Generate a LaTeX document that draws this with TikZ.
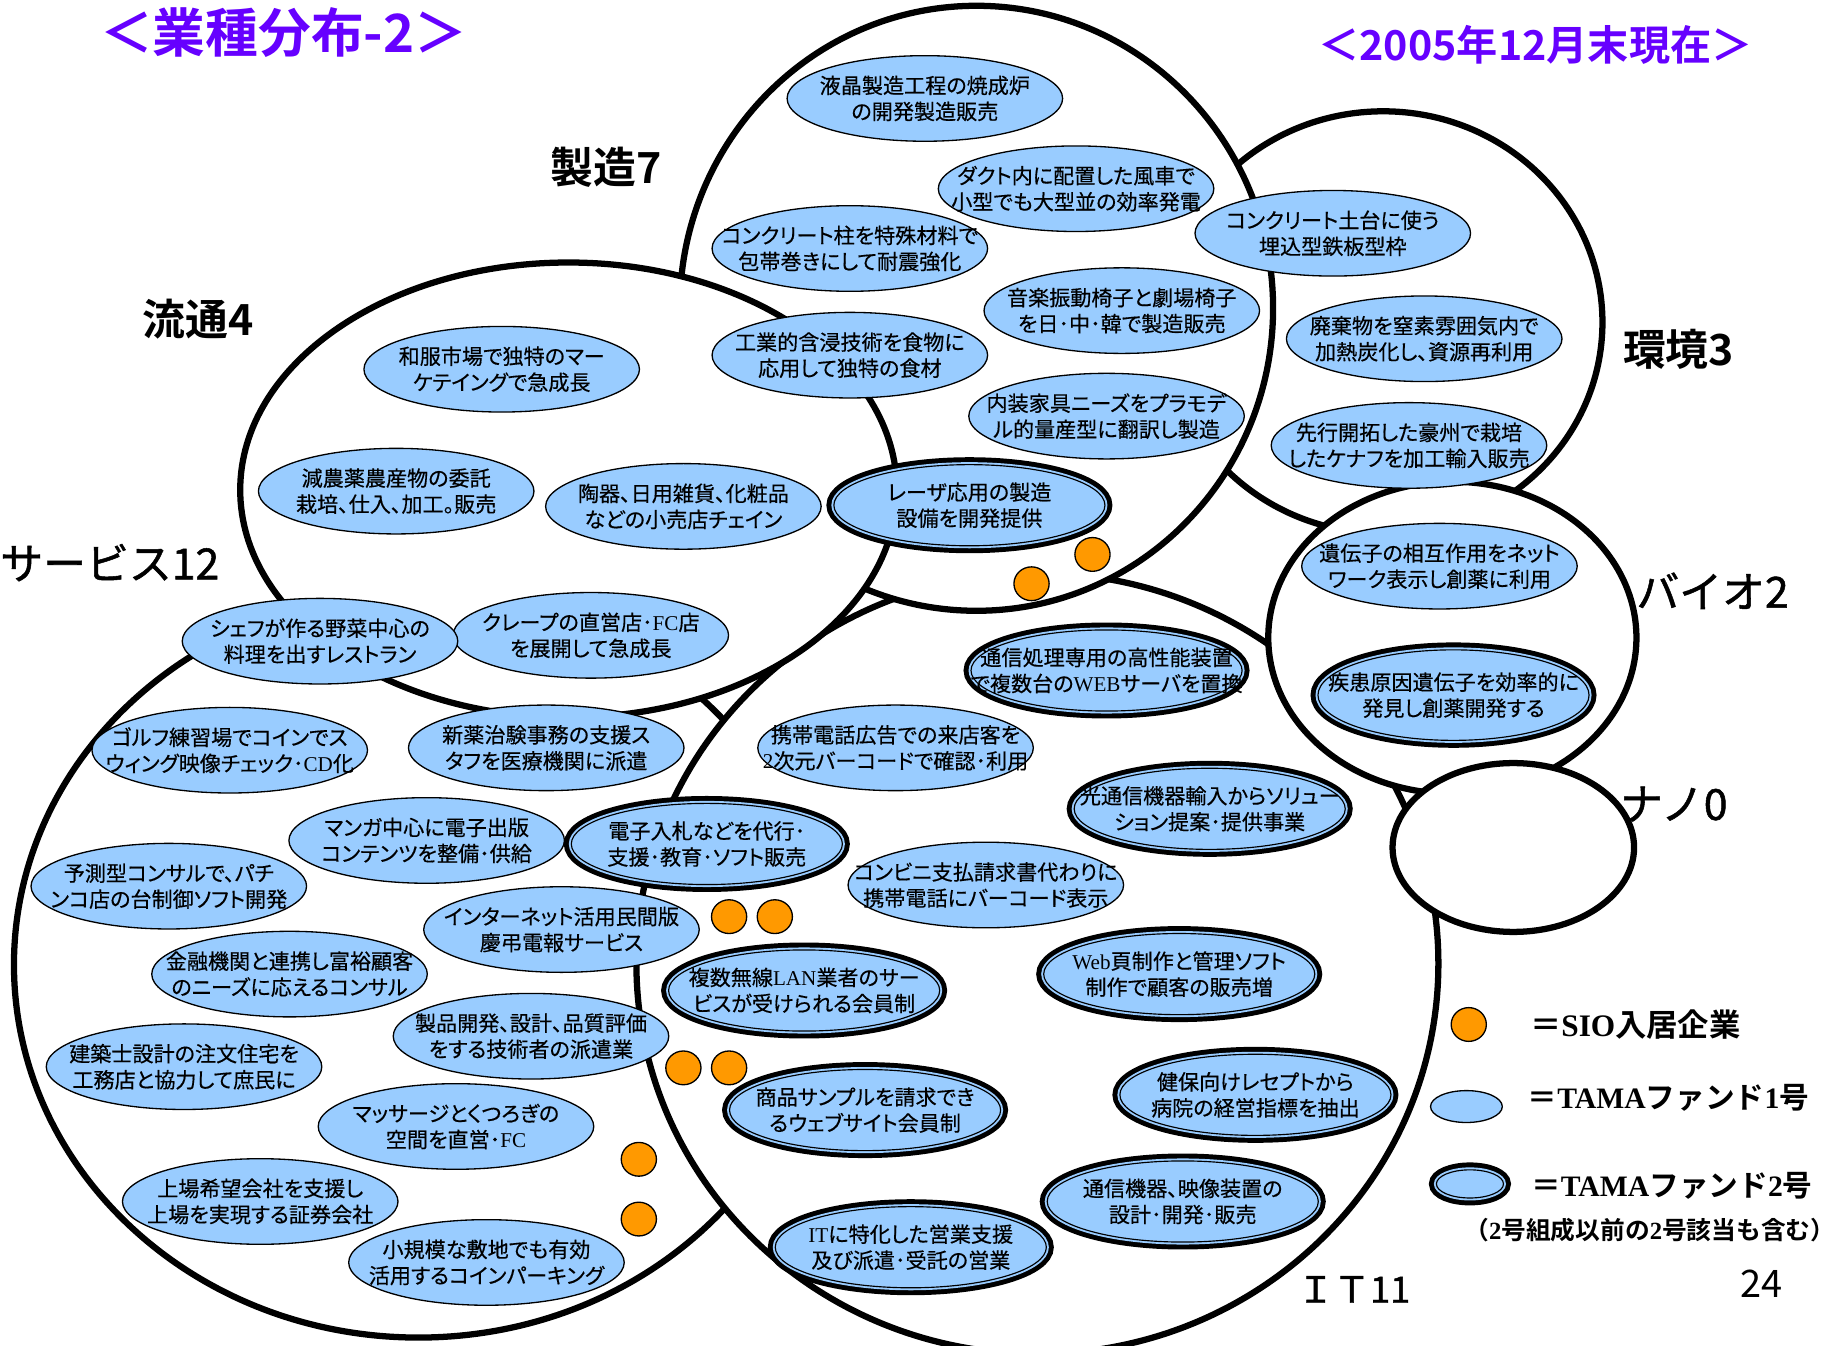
\documentclass[tikz,border=0pt]{standalone}
\usepackage{fontspec}
\setmainfont{Noto Sans CJK JP}[BoldFont={Noto Sans CJK JP Bold}]
\newfontfamily\fundfont{Noto Sans CJK JP}[RawFeature=+palt, FakeBold=0.4]
\newfontfamily\labelfont{Noto Sans CJK JP}[FakeBold=1.2]
\newfontfamily\lat{Liberation Serif}
\usepackage{xcolor}
\usepackage{tikz}
\usetikzlibrary{shapes,positioning}

\definecolor{fundblue}{RGB}{153,204,255}
\definecolor{sioorange}{RGB}{255,153,0}
\definecolor{titlepurple}{RGB}{102,0,255}

\begin{document}
\begin{tikzpicture}[x=0.025cm, y=-0.025cm]
    % Define styles
    \tikzstyle{industry} = [ellipse, draw, fill=white, line width=3.8pt, inner sep=0pt]
    \tikzstyle{fund} = [ellipse, draw, fill=fundblue, line width=0.8pt, inner xsep=-2.5cm, inner ysep=-1cm, align=center, font=\fundfont\fontsize{12.8pt}{15.8pt}\selectfont, minimum width=5.875cm, minimum height=1.825cm]
    \tikzstyle{fundtwo} = [fund, line width=0.7pt, minimum width=5.78cm, minimum height=1.73cm, preaction={draw=black, line width=9pt}, preaction={draw=fundblue, line width=3pt}]
    \tikzstyle{sio} = [ellipse, draw, fill=sioorange, line width=0.8pt, inner sep=0pt, minimum width=0.75cm, minimum height=0.72cm]
    \tikzstyle{industrylabel} = [inner sep=0pt, font=\labelfont\fontsize{26pt}{30pt}\selectfont]
    \tikzstyle{legendtext} = [anchor=west, inner sep=0pt, font=\fontsize{18pt}{22pt}\bfseries]

    \fill[white] (0,0) rectangle (1568,1148);
    \useasboundingbox (0,0) rectangle (1568,1148);

    % Industry circles
    \node [industry, minimum width=9.35cm, minimum height=9cm] (kankyo) at (1180,275) {};
    \node [industry, minimum width=17.25cm, minimum height=15.9cm] (service) at (357,823) {};
    \node [industry, minimum width=17.1cm, minimum height=16.65cm] (it) at (885,822) {};
    \node [industry, minimum width=12.65cm, minimum height=12.9cm] (seizo) at (833,263) {};
    \node [industry, minimum width=14cm, minimum height=9.7cm] (ryutsu) at (485,418) {};
    \node [industry, minimum width=7.85cm, minimum height=6.65cm] (bio) at (1239,544) {};
    \node [industry, minimum width=5.15cm, minimum height=3.6cm] (nano) at (1291,723) {};

    % Titles
    \node [font=\fontsize{32pt}{36pt}\bfseries, text=titlepurple] (title) at (242,28) {＜業種分布-2＞};
    \node [font=\fontsize{25pt}{30pt}\bfseries, text=titlepurple] (date) at (1310,38) {＜2005年12月末現在＞};

    % Industry labels
    \node [industrylabel, font=\fontsize{26pt}{30pt}\bfseries] (seizolabel) at (517,143) {製造7};
    \node [industrylabel, font=\fontsize{26pt}{30pt}\bfseries] (ryutsulabel) at (169,272) {流通4};
    \node [industrylabel, anchor=west] (servicelabel) at (0,480) {サービス12};
    \node [industrylabel, font=\fontsize{26pt}{30pt}\bfseries] (kankyolabel) at (1432,298) {環境3};
    \node [industrylabel] (biolabel) at (1461,504) {バイオ2};
    \node [industrylabel] (nanolabel) at (1428,686) {ナノ0};
    \node [industrylabel, font=\labelfont\fontsize{22pt}{26pt}\selectfont] (itlabel) at (1155,1100) {ＩＴ11};
    \node [font=\fontsize{23pt}{26pt}\selectfont] (page) at (1503,1095) {24};

    % Manufacturing
    \node [fund] (lcd) at (789,84) {液晶製造工程の焼成炉\\の開発製造販売};
    \node [fund] (duct) at (918,161) {ダクト内に配置した風車で\\小型でも大型並の効率発電};
    \node [fund] (pillar) at (725,212) {コンクリート柱を特殊材料で\\包帯巻きにして耐震強化};
    \node [fund] (chair) at (957,265) {音楽振動椅子と劇場椅子\\を日･中･韓で製造販売};
    \node [fund] (impreg) at (725,303) {工業的含浸技術を食物に\\応用して独特の食材};
    \node [fund] (furniture) at (944,355) {内装家具ニーズをプラモデ\\ル的量産型に翻訳し製造};
    \node [fundtwo] (laser) at (827,431) {レーザ応用の製造\\設備を開発提供};

    % Environment
    \node [fund] (footing) at (1137,199) {コンクリート土台に使う\\埋込型鉄板型枠};
    \node [fund] (waste) at (1215,289) {廃棄物を窒素雰囲気内で\\加熱炭化し、資源再利用};
    \node [fund] (kenaf) at (1202,380) {先行開拓した豪州で栽培\\したケナフを加工輸入販売};

    % Bio
    \node [fund] (network) at (1228,483) {遺伝子の相互作用をネット\\ワーク表示し創薬に利用};
    \node [fundtwo, minimum height=1.93cm] (disease) at (1240,593) {疾患原因遺伝子を効率的に\\発見し創薬開発する};

    % Distribution
    \node [fund] (kimono) at (428,315) {和服市場で独特のマー\\ケテイングで急成長};
    \node [fund] (organic) at (338,419) {減農薬農産物の委託\\栽培、仕入、加工。販売};
    \node [fund] (retail) at (583,432) {陶器、日用雑貨、化粧品\\などの小売店チェイン};
    \node [fund] (crepe) at (504,542) {クレープの直営店･{\lat FC}店\\を展開して急成長};

    % Service
    \node [fund] (chef) at (273,547) {シェフが作る野菜中心の\\料理を出すレストラン};
    \node [fund] (clinical) at (466,638) {新薬治験事務の支援ス\\タフを医療機関に派遣};
    \node [fund] (golf) at (196,640) {ゴルフ練習場でコインでス\\ウィング映像チェック･{\lat CD}化};
    \node [fund] (manga) at (364,717) {マンガ中心に電子出版\\コンテンツを整備･供給};
    \node [fund] (pachinko) at (144,756) {予測型コンサルで、パチ\\ンコ店の台制御ソフト開発};
    \node [fund] (telegram) at (479,793) {インターネット活用民間版\\慶弔電報サービス};
    \node [fund] (wealth) at (247,831) {金融機関と連携し富裕顧客\\のニーズに応えるコンサル};
    \node [fund] (engineer) at (453,884) {製品開発、設計、品質評価\\をする技術者の派遣業};
    \node [fund] (house) at (157,910) {建築士設計の注文住宅を\\工務店と協力して庶民に};
    \node [fund] (massage) at (389,961) {マッサージとくつろぎの\\空間を直営･{\lat FC}};
    \node [fund] (listing) at (222,1025) {上場希望会社を支援し\\上場を実現する証券会社};
    \node [fund] (parking) at (415,1077) {小規模な敷地でも有効\\活用するコインパーキング};

    % IT
    \node [fundtwo] (webserver) at (944,572) {通信処理専用の高性能装置\\で複数台の{\lat WEB}サーバを置換};
    \node [fund] (barcode) at (764,638) {携帯電話広告での来店客を\\{\lat 2}次元バーコードで確認･利用};
    \node [fundtwo] (optical) at (1032,690) {光通信機器輸入からソリュー\\ション提案･提供事業};
    \node [fundtwo] (bidding) at (603,720) {電子入札などを代行･\\支援･教育･ソフト販売};
    \node [fund] (konbini) at (841,755) {コンビニ支払請求書代わりに\\携帯電話にバーコード表示};
    \node [fundtwo] (wlan) at (686,845) {複数無線{\lat LAN}業者のサー\\ビスが受けられる会員制};
    \node [fundtwo] (webpage) at (1006,831) {{\lat Web}頁制作と管理ソフト\\制作で顧客の販売増};
    \node [fundtwo] (sample) at (738,947) {商品サンプルを請求でき\\るウェブサイト会員制};
    \node [fundtwo] (receipt) at (1071,934) {健保向けレセプトから\\病院の経営指標を抽出};
    \node [fundtwo] (video) at (1009,1025) {通信機器、映像装置の\\設計･開発･販売};
    \node [fundtwo] (sales) at (777,1064) {{\lat IT}に特化した営業支援\\及び派遣･受託の営業};

    % SIO tenants
    \foreach \x/\y [count=\i] in {932/473, 880/498, 622/782, 661/782, 583/911, 622/911, 545/989, 545/1040}
        \node [sio] (sio\i) at (\x,\y) {};

    % Legend
    \node [sio] (legsio) at (1253,874) {};
    \node [legendtext, font=\fontsize{19pt}{22pt}\bfseries] (legsiotext) at (1305,874) {＝{\lat SIO}入居企業};
    \node [fund, minimum width=1.53cm, minimum height=0.68cm] (legone) at (1251,944) {};
    \node [legendtext] (legonetext) at (1303,937) {＝{\lat TAMA}ファンド{\lat 1}号};
    \node [fundtwo, minimum width=1.43cm, minimum height=0.6cm] (legtwo) at (1254,1010) {};
    \node [legendtext] (legtwotext) at (1306,1012) {＝{\lat TAMA}ファンド{\lat 2}号};
    \node [legendtext, anchor=east, font=\fontsize{15pt}{18pt}\bfseries] (legnote) at (1566,1049) {（{\lat 2}号組成以前の{\lat 2}号該当も含む）};
\end{tikzpicture}
\end{document}
